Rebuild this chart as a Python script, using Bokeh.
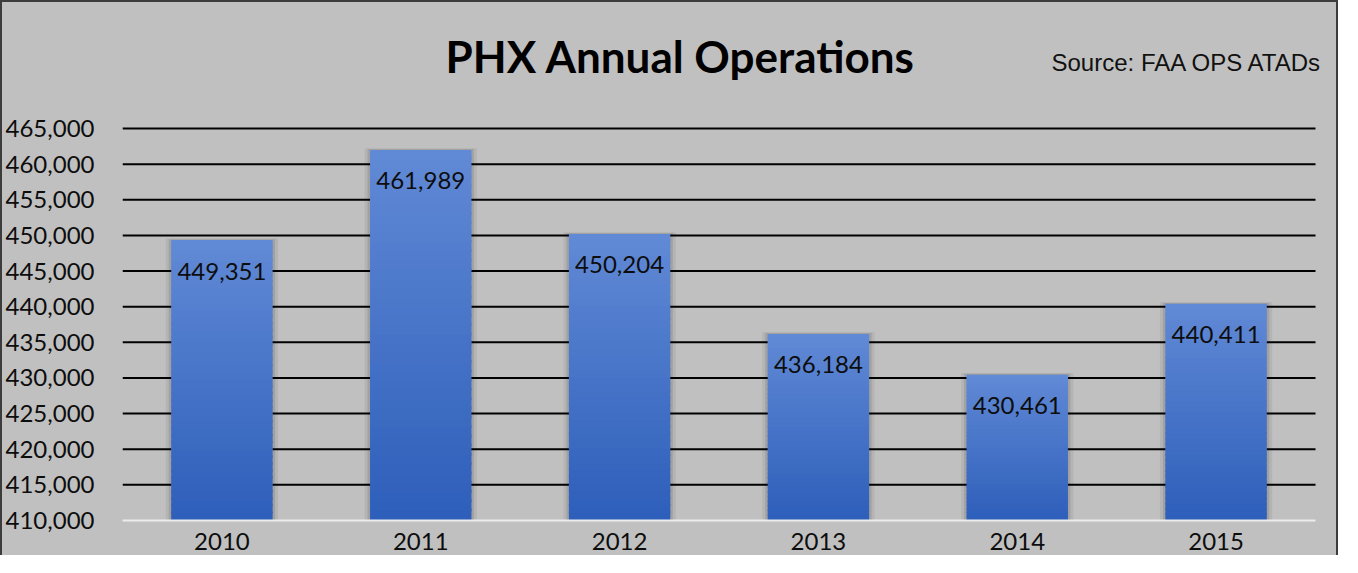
from bokeh.plotting import figure
from bokeh.models import Range1d, FixedTicker, Label, NumeralTickFormatter
from bokeh.embed import file_html
from bokeh.resources import INLINE
from bokeh.core.properties import value

# ---- data ----
years = ["2010", "2011", "2012", "2013", "2014", "2015"]
operations = [449351, 461989, 450204, 436184, 430461, 440411]
y_ticks = [410000, 415000, 420000, 425000, 430000, 435000, 440000, 445000,
           450000, 455000, 460000, 465000]
title_text = "PHX Annual Operations"
source_text = "Source: FAA OPS ATADs"

# ---- layout (canvas pixels) ----
W, H = 1338, 555
ML, MR, MT, MB = 120, 25, 126, 37
ymin, ymax = 410000, 465000
nx = len(years)
plot_w = W - ML - MR
plot_h = H - MT - MB
px_per_y = plot_h / (ymax - ymin)
px_per_x = plot_w / nx

BG = "#c0c0c0"

p = figure(width=W, height=H, output_backend="svg", toolbar_location=None,
           x_range=Range1d(0, nx + MR / px_per_x),
           y_range=Range1d(ymin, ymax + MT / px_per_y),
           min_border_left=ML, min_border_right=0, min_border_top=0,
           min_border_bottom=MB, background_fill_color=None,
           border_fill_color=BG, outline_line_color=None)
p.styles = {"border-left": "2px solid #3c3c3c",
            "border-top": "2px solid #3c3c3c",
            "border-right": "2px solid #3c3c3c",
            "background-color": BG}

xs = [i + 0.5 for i in range(nx)]

# gridlines (bounded to the bar area)
grid_y = y_ticks[1:]
p.segment(x0=[0] * len(grid_y), x1=[nx] * len(grid_y), y0=grid_y, y1=grid_y,
          line_color="black", line_width=2)

# soft shadows
p.vbar(x=xs, top=[v + 250 for v in operations], bottom=ymin, width=0.565,
       fill_color="black", fill_alpha=0.06, line_color=None)
p.vbar(x=xs, top=[v + 120 for v in operations], bottom=ymin, width=0.535,
       fill_color="black", fill_alpha=0.10, line_color=None)

# gradient bars
def hex2rgb(h):
    h = h.lstrip("#")
    return tuple(int(h[i:i + 2], 16) for i in (0, 2, 4))

top_c = hex2rgb("#618ad6")
bot_c = hex2rgb("#2d5eba")
N = 40
seg_x, seg_top, seg_bot, seg_col = [], [], [], []
for x, v in zip(xs, operations):
    step = (v - ymin) / N
    for i in range(N):
        b = ymin + step * i
        t = b + step * (1.3 if i < N - 1 else 1.0)
        f = (i + 0.5) / N
        c = tuple(int(round(bot_c[k] + (top_c[k] - bot_c[k]) * f)) for k in range(3))
        seg_x.append(x)
        seg_bot.append(b)
        seg_top.append(t)
        seg_col.append("#%02x%02x%02x" % c)
p.vbar(x=seg_x, top=seg_top, bottom=seg_bot, width=0.51, fill_color=seg_col,
       line_color=None)

# value labels
lbl_y = [v - 31 / px_per_y for v in operations]
p.text(x=xs, y=lbl_y, text=[f"{v:,}" for v in operations],
       text_align="center", text_baseline="middle",
       text_font=value("Lato"), text_font_size="24px", text_color="#0d0d0d")

# axes
p.yaxis.ticker = FixedTicker(ticks=y_ticks)
p.yaxis.formatter = NumeralTickFormatter(format="0,0")
p.yaxis.major_label_text_font = "Lato"
p.yaxis.major_label_text_font_size = "24px"
p.yaxis.major_label_text_color = "#0d0d0d"
p.yaxis.axis_line_color = None
p.yaxis.major_tick_line_color = None
p.yaxis.minor_tick_line_color = None
p.yaxis.major_tick_out = 0
p.yaxis.major_tick_in = 0
p.yaxis.major_label_standoff = 28

p.xaxis.ticker = FixedTicker(ticks=xs)
p.xaxis.major_label_overrides = {x: y for x, y in zip(xs, years)}
p.xaxis.major_label_text_font = "Lato"
p.xaxis.major_label_text_font_size = "24px"
p.xaxis.major_label_text_color = "#0d0d0d"
p.xaxis.axis_line_color = "#ececec"
p.xaxis.axis_line_width = 2
p.xaxis.bounds = (0, nx)
p.xaxis.major_tick_line_color = None
p.xaxis.minor_tick_line_color = None
p.xaxis.major_tick_out = 0
p.xaxis.major_tick_in = 0
p.xaxis.major_label_standoff = 12

p.xgrid.grid_line_color = None
p.ygrid.grid_line_color = None

# title and source
title_x = (678 - ML) / px_per_x
title_y = ymax + (MT - 53) / px_per_y
p.add_layout(Label(x=title_x, y=title_y, text=title_text, text_align="center",
                   text_baseline="middle", text_font="Lato",
                   text_font_style="bold", text_font_size="44px",
                   text_color="black"))
src_x = (1049 - ML) / px_per_x
src_y = ymax + (MT - 60) / px_per_y
p.add_layout(Label(x=src_x, y=src_y, text=source_text, text_align="left",
                   text_baseline="middle", text_font="Liberation Sans",
                   text_font_size="24px", text_color="#111111"))

open("out.html", "w").write(file_html(p, INLINE))
